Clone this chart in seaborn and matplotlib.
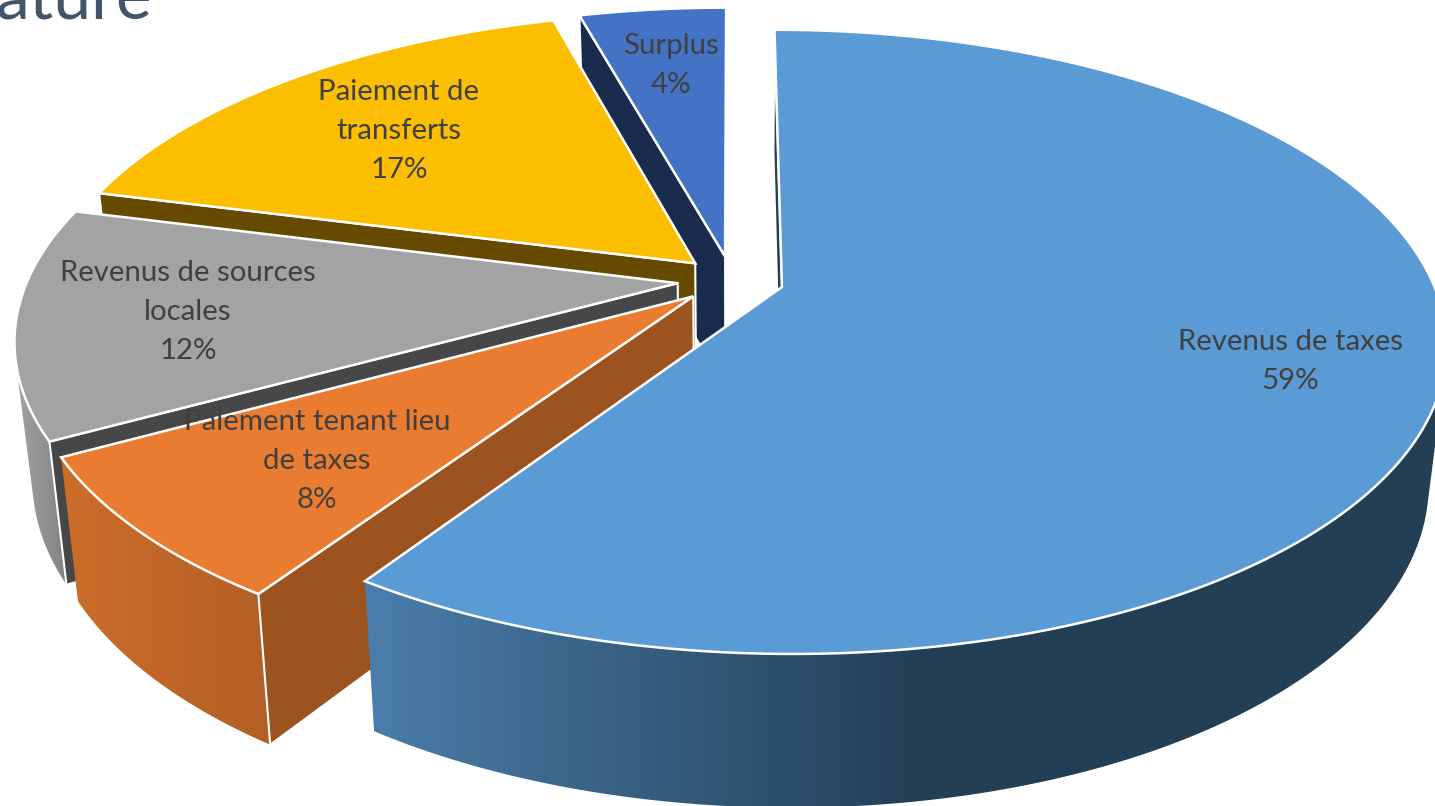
import numpy as np
import matplotlib
matplotlib.use('Agg')
import matplotlib.pyplot as plt
import seaborn as sns
from matplotlib.patches import Polygon

# Data
categories = ['Revenus de taxes', 'Paiement tenant lieu de taxes', 'Revenus de sources locales',
              'Paiement de transferts', 'Surplus']
shares = [59.4, 7.6, 12.0, 16.7, 4.3]
label_lines = [['Revenus de taxes'], ['Paiement tenant lieu', 'de taxes'], ['Revenus de sources', 'locales'],
               ['Paiement de', 'transferts'], ['Surplus']]

top_colors = ['#5B9BD5', '#EA7C31', '#A3A3A3', '#FBBE00', '#4472C4']
radial_colors = ['#234058', '#9C5320', '#474747', '#664A00', '#1A2C4E']
wall_light = ['#4A7DAB', '#CB6D2A', '#A0A0A0', '#664A00', '#1A2C4E']
wall_dark = ['#233F55', '#B25F25', '#7F7F7F', '#664A00', '#1A2C4E']
wall_x_range = [(370, 920), (70, 270), (20, 70), (100, 600), (580, 730)]
label_xy = [(1290, 342), (317, 422), (188, 273), (399, 92), (671, 46)]

# Projection of the tilted pie onto the picture, in pixels
X0, Y0 = 732, 280
A, B, K = 650, 300, 0.175
EXPLODE = [0.08, 0.08, 0.084, 0.08, 0.08]
DEPTH, SCALE_X, SCALE_Y = 135, 0.975, 1.05
LINE_STEP = 39


def project(u, v):
    w = 1 + K * v
    return X0 + A * u / w, Y0 - B * v / w


def lower(x, y):
    return X0 + SCALE_X * (x - X0), Y0 + DEPTH + SCALE_Y * (y - Y0)


sns.set_theme(style='white')
plt.rcParams['font.family'] = ['Lato', 'DejaVu Sans']

fig = plt.figure(figsize=(14.35, 8.06), dpi=100)
ax = fig.add_axes([0, 0, 1, 1])

ends = np.cumsum(shares) / np.sum(shares) * 2 * np.pi
starts = np.concatenate([[0], ends[:-1]])

# Back slices first, the big one goes on top
for i in [4, 3, 2, 1, 0]:
    mid = (starts[i] + ends[i]) / 2
    u0, v0 = EXPLODE[i] * np.sin(mid), EXPLODE[i] * np.cos(mid)
    t = np.linspace(starts[i], ends[i], 300)
    ox, oy = project(u0 + np.sin(t), v0 + np.cos(t))
    ax_, ay_ = project(u0, v0)
    bx, by = lower(ox, oy)
    apex_bx, apex_by = lower(ax_, ay_)

    # Outer wall, only the part facing us, shaded left to right through a clipped gradient
    facing = np.gradient(ox) * (by - oy) - np.gradient(oy) * (bx - ox) < 0
    if facing.sum() > 1:
        wall = np.column_stack([np.r_[ox[facing], bx[facing][::-1]], np.r_[oy[facing], by[facing][::-1]]])
        clip = Polygon(wall, closed=True, transform=ax.transData, facecolor='none', edgecolor='none')
        ax.add_patch(clip)
        cmap = sns.blend_palette([wall_light[i], wall_dark[i]], as_cmap=True)
        x_lo, x_hi = wall_x_range[i]
        # flat colour past both ends of the ramp
        wide = np.interp(np.linspace(-100, 1600, 1024), [x_lo, x_hi], [0, 1]).reshape(1, -1)
        img = ax.imshow(wide, cmap=cmap, vmin=0, vmax=1, extent=(-100, 1600, 900, -100), aspect='auto',
                        interpolation='bilinear', zorder=1)
        img.set_clip_path(clip)

    # Radial wall on the starting side
    quad = [(ax_, ay_), (ox[0], oy[0]), (bx[0], by[0]), (apex_bx, apex_by)]
    ax.add_patch(Polygon(quad, closed=True, facecolor=radial_colors[i], edgecolor='white', lw=1.5, zorder=1))

    # Top face
    pts = np.column_stack([np.r_[ax_, ox], np.r_[ay_, oy]])
    ax.add_patch(Polygon(pts, closed=True, facecolor=top_colors[i], edgecolor='white', lw=1.8, joinstyle='miter',
                         zorder=1))

ax.set_xlim(0, 1435)
ax.set_ylim(806, 0)
ax.axis('off')

# Labels come last so that they sit over every slice
for lines, share, (lx, ly) in zip(label_lines, shares, label_xy):
    for n, txt in enumerate(lines + [f'{share:.0f}%']):
        ax.text(lx, ly + n * LINE_STEP, txt, ha='center', va='center', fontsize=21.2, color='#404040')

# What is left of the slide title, cut by the top of the picture
ax.text(-4, 19, 'ature', ha='left', va='baseline', fontsize=49, color='#44546A')

fig.savefig('out.png', dpi=100)
